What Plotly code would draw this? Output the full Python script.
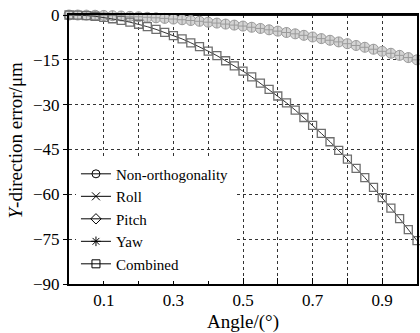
import plotly.graph_objects as go

angle = [0.0, 0.025, 0.05, 0.075, 0.1, 0.125, 0.15, 0.175, 0.2, 0.225, 0.25, 0.275,
         0.3, 0.325, 0.35, 0.375, 0.4, 0.425, 0.45, 0.475, 0.5, 0.525, 0.55, 0.575,
         0.6, 0.625, 0.65, 0.675, 0.7, 0.725, 0.75, 0.775, 0.8, 0.825, 0.85, 0.875,
         0.9, 0.925, 0.95, 0.975, 1.0]

non_orth = [0, -0.01, -0.04, -0.08, -0.15, -0.23, -0.34, -0.46, -0.6, -0.76, -0.94,
            -1.13, -1.35, -1.58, -1.84, -2.1, -2.4, -2.7, -3.04, -3.38, -3.7, -4.1,
            -4.5, -4.95, -5.4, -5.85, -6.3, -6.8, -7.35, -7.9, -8.45, -9.0, -9.6,
            -10.2, -10.8, -11.45, -12.15, -12.8, -13.5, -14.25, -15.0]

roll = [0.0] * 41
pitch = [1.3] * 41
yaw = [0.0] * 41

combined = [0, -0.05, -0.19, -0.42, -0.8, -1.25, -1.8, -2.4, -3.1, -3.9, -4.8, -5.8,
            -6.9, -8.0, -9.3, -10.6, -12.1, -13.6, -15.3, -17.0, -18.8, -20.7, -22.8,
            -24.9, -27.1, -29.4, -31.8, -34.3, -36.9, -39.6, -42.4, -45.3, -48.2,
            -51.3, -54.4, -57.7, -61.1, -64.6, -68.1, -71.8, -75.5]

x_ticks = [0.1, 0.2, 0.3, 0.4, 0.5, 0.6, 0.7, 0.8, 0.9]
x_tick_text = ["0.1", "", "0.3", "", "0.5", "", "0.7", "", "0.9"]
y_ticks = [0, -15, -30, -45, -60, -75, -90]
y_tick_text = ["0", "\u221215", "\u221230", "\u221245", "\u221260", "\u221275", "\u221290"]

names = ["Non-orthogonality", "Roll", "Pitch", "Yaw", "Combined"]
legend_symbols = ["circle-open", "x-thin-open", "diamond-open", "asterisk-open", "square-open"]

FONT = "Liberation Serif"

fig = go.Figure()

# data traces
fig.add_trace(go.Scatter(x=angle, y=roll, mode="lines", line=dict(color="black", width=1.5),
                         showlegend=False, cliponaxis=False))
fig.add_trace(go.Scatter(x=angle, y=yaw, mode="lines", line=dict(color="black", width=1.5),
                         showlegend=False, cliponaxis=False))
fig.add_trace(go.Scatter(x=angle, y=pitch, mode="markers",
                         marker=dict(symbol="diamond-open", size=9, color="#a8a8a8",
                                     line=dict(width=1.2, color="#a8a8a8")),
                         showlegend=False, cliponaxis=False))
fig.add_trace(go.Scatter(x=angle, y=non_orth, mode="lines+markers",
                         line=dict(color="#888888", width=1),
                         marker=dict(symbol="circle-cross", size=10, color="#d4d4d4",
                                     line=dict(width=1, color="#9a9a9a")),
                         showlegend=False, cliponaxis=False))
fig.add_trace(go.Scatter(x=angle, y=combined, mode="lines+markers",
                         line=dict(color="#333333", width=1),
                         marker=dict(symbol="square-open", size=8, color="#6e6e6e",
                                     line=dict(width=1.3, color="#6e6e6e")),
                         showlegend=False, cliponaxis=False))

# legend entries
for nm, sym in zip(names, legend_symbols):
    fig.add_trace(go.Scatter(x=[None], y=[None], mode="lines+markers", name=nm,
                             line=dict(color="black", width=1),
                             marker=dict(symbol=sym, size=8, color="black",
                                         line=dict(width=1, color="black"))))

fig.update_layout(
    width=420, height=333,
    margin=dict(l=69, r=1, t=15, b=49),
    paper_bgcolor="white", plot_bgcolor="white",
    font=dict(family=FONT, size=17, color="black"),
    showlegend=True,
    legend=dict(x=0.02, y=0.47, xanchor="left", yanchor="top",
                bgcolor="white", borderwidth=0, tracegroupgap=0,
                font=dict(family=FONT, size=15, color="black")),
    annotations=[dict(text="<i>Y</i>-direction error/μm", textangle=-90,
                      xref="paper", yref="paper", x=-0.154, y=0.535,
                      xanchor="center", yanchor="middle", showarrow=False,
                      font=dict(family=FONT, size=19, color="black"))],
)

fig.update_xaxes(
    range=[0, 1], tickvals=x_ticks, ticktext=x_tick_text,
    ticks="inside", ticklen=6, tickwidth=1, tickcolor="black",
    showline=True, linecolor="black", linewidth=2, mirror=True,
    showgrid=True, gridcolor="#333333", gridwidth=1, griddash="3px,3px",
    zeroline=False,
    title=dict(text="Angle/(°)", font=dict(family=FONT, size=19), standoff=6),
    tickfont=dict(family=FONT, size=17),
)
fig.update_yaxes(
    range=[-90, 0], tickvals=y_ticks, ticktext=y_tick_text,
    ticks="outside", ticklen=4, tickwidth=1, tickcolor="black",
    showline=True, linecolor="black", linewidth=2, mirror=True,
    showgrid=True, gridcolor="#333333", gridwidth=1, griddash="3px,3px",
    zeroline=False,
    tickfont=dict(family=FONT, size=17),
)

fig.write_html("out.html")
